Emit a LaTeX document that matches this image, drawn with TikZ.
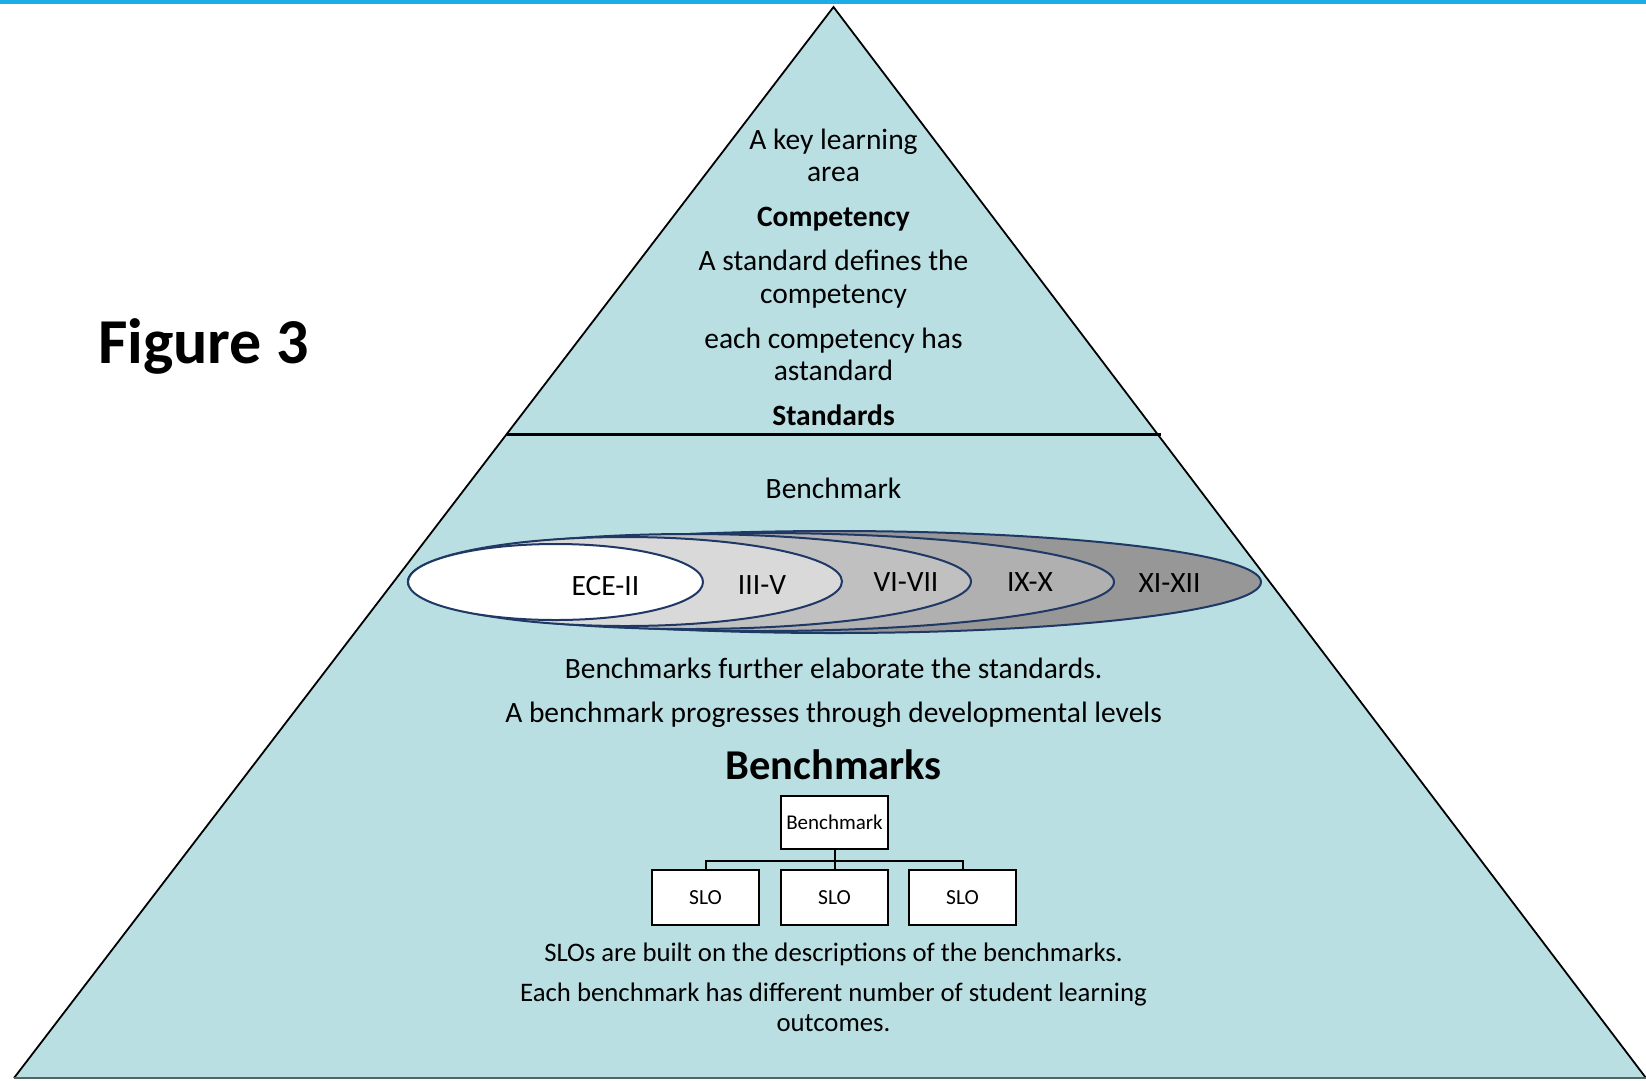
\documentclass[tikz,border=0pt]{standalone}
\usepackage{fontspec}
\setmainfont{Carlito}
\usetikzlibrary{shapes.geometric}
\definecolor{topblue}{HTML}{1CADE4}
\definecolor{pyrfill}{HTML}{B9DFE3}
\definecolor{navy}{HTML}{1F3864}
\definecolor{gA}{HTML}{979797}
\definecolor{gB}{HTML}{B0B0B0}
\definecolor{gC}{HTML}{C0C0C0}
\definecolor{gD}{HTML}{D9D9D9}
\tikzset{
  body/.style={font=\fontsize{29.5}{32.5}\selectfont, inner sep=0pt, align=center},
  small/.style={font=\fontsize{26.75}{29.5}\selectfont, inner sep=0pt, align=center},
  bodyb/.style={font=\fontsize{29.5}{32.5}\selectfont\bfseries, inner sep=0pt},
  ell/.style={ellipse, draw=navy, line width=2pt, inner sep=0pt},
  lvl/.style={font=\fontsize{29.5}{32.5}\selectfont, inner sep=0pt},
  box/.style={draw=black, line width=2pt, fill=white, inner sep=0pt},
}
\begin{document}
\begin{tikzpicture}[x=1pt,y=-1pt]
\useasboundingbox (0,0) rectangle (1646,1080);
\fill[white] (0,0) rectangle (1646,1080);
\fill[topblue] (0,0) rectangle (1646,4);
% pyramid
\coordinate (apex) at (833.5,7);
\coordinate (bl) at (14,1078);
\coordinate (br) at (1646,1078);
\coordinate (dl) at (507,434.5);
\coordinate (dr) at (1161,434.5);
\fill[pyrfill] (apex) -- (bl) -- (br) -- cycle;
\draw[line width=1.8pt, line join=miter] (bl) -- (apex) -- (br);
\draw[line width=1.8pt, color=black!55!pyrfill] (bl) -- (br);
\draw[line width=2.2pt] (dl) -- (dr);
% top texts
\node[body] (t1) at (833.5,155.5) {A key learning\\area};
\node[bodyb] (t2) at (833.5,219) {Competency};
\node[body] (t3) at (833.5,279) {A standard defines the\\competency};
\node[body] (t4) at (833.5,354.5) {each competency has\\astandard};
\node[bodyb] (t5) at (833.5,415) {Standards};
\node[body] (t6) at (833.5,488) {Benchmark};
% ellipses
\node[ell, fill=gA, minimum width=853, minimum height=102] (e5) at (834.5,582) {};
\node[ell, fill=gB, minimum width=706, minimum height=98] (e4) at (761,582) {};
\node[ell, fill=gC, minimum width=563, minimum height=95] (e3) at (689.5,581.5) {};
\node[ell, fill=gD, minimum width=434, minimum height=89] (e2) at (625,581.5) {};
\node[ell, fill=white, minimum width=295, minimum height=76] (e1) at (555.5,582) {};
\node[lvl] (l1) at (605.5,586.5) {ECE-II};
\node[lvl] (l2) at (762,585.5) {III-V};
\node[lvl] (l3) at (906,582.5) {VI-VII};
\node[lvl] (l4) at (1030,582.5) {IX-X};
\node[lvl] (l5) at (1169.5,583.5) {XI-XII};
% middle texts
\node[body] (m1) at (833.5,668) {Benchmarks further elaborate the standards.};
\node[body] (m2) at (833.5,715) {A benchmark progresses through developmental levels};
\node[font=\fontsize{42.5}{46}\selectfont\bfseries, inner sep=0pt] (m3) at (833.5,764.5) {Benchmarks};
% tree
\node[box, minimum width=107, minimum height=53, font=\fontsize{21}{24}\selectfont] (bm) at (834.5,822.5) {Benchmark};
\node[box, minimum width=107, minimum height=55, font=\fontsize{21.5}{24}\selectfont] (s1) at (705.5,897.5) {SLO};
\node[box, minimum width=107, minimum height=55, font=\fontsize{21.5}{24}\selectfont] (s2) at (834.5,897.5) {SLO};
\node[box, minimum width=107, minimum height=55, font=\fontsize{21.5}{24}\selectfont] (s3) at (962.5,897.5) {SLO};
\coordinate (j) at (834.5,861);
\draw[line width=2pt] (bm.south) -- (j);
\draw[line width=2pt] (s1.north) |- (j) -| (s3.north);
\draw[line width=2pt] (j) -- (s2.north);
% bottom texts
\node[small] (b1) at (833.5,954) {SLOs are built on the descriptions of the benchmarks.};
\node[small] (b2) at (833.5,1007.5) {Each benchmark has different number of student learning\\outcomes.};
% figure label
\node[font=\fontsize{64}{70}\selectfont\bfseries, inner sep=0pt] (fig) at (203.5,346) {Figure 3};
\end{tikzpicture}
\end{document}
